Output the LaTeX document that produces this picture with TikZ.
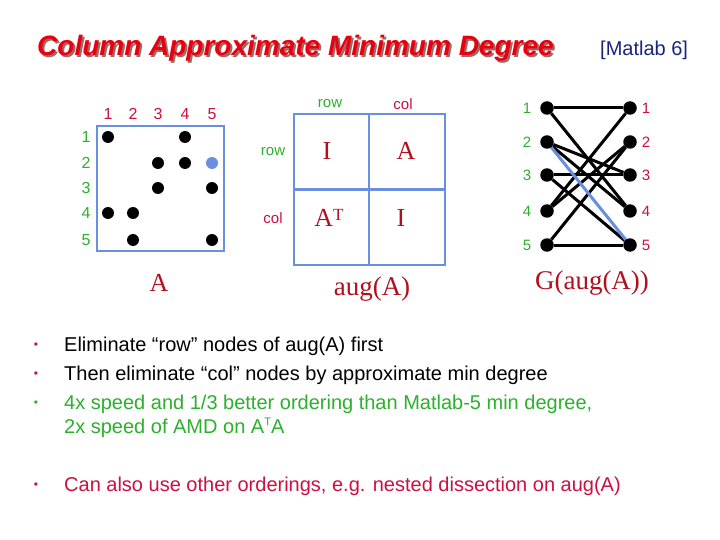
\documentclass[tikz,border=0pt]{standalone}
\usepackage{fontspec}
\setmainfont{Liberation Sans}
\newfontfamily\seriffont{Liberation Serif}
\usetikzlibrary{backgrounds}
\definecolor{titlered}{HTML}{E8000F}
\definecolor{shadowred}{HTML}{9A6A6A}
\definecolor{navy}{HTML}{1A237E}
\definecolor{rowgreen}{HTML}{2DB02D}
\definecolor{colred}{HTML}{CC1040}
\definecolor{boxblue}{HTML}{6A8FE0}
\definecolor{serifred}{HTML}{B01020}
\begin{document}
\begin{tikzpicture}[x=1pt,y=-1pt,
  dot/.style={circle,fill=black,minimum size=12pt,inner sep=0pt},
  gdot/.style={circle,fill=black,minimum size=13.5pt,inner sep=0pt},
  rowlab/.style={text=rowgreen,font=\fontsize{15}{17}\selectfont,inner sep=0pt},
  collab/.style={text=colred,font=\fontsize{15}{17}\selectfont,inner sep=0pt},
  big/.style={text=serifred,font=\seriffont\fontsize{26}{30}\selectfont,inner sep=0pt},
  edge/.style={line width=3pt,black},
  bul/.style={anchor=west,inner sep=0pt,font=\fontsize{20}{24}\selectfont},
  bdot/.style={anchor=center,inner sep=0pt,font=\fontsize{12}{14}\selectfont}]
\useasboundingbox (0,0) rectangle (720,540);
\begin{scope}[on background layer]
\fill[white] (0,0) rectangle (720,540);
\end{scope}
% title
\node[anchor=west,inner sep=0pt,text=shadowred,font=\fontsize{28}{32}\bfseries\itshape\selectfont] (tshadow) at (39,50) {Column Approximate Minimum Degree};
\node[anchor=west,inner sep=0pt,text=titlered,font=\fontsize{28}{32}\bfseries\itshape\selectfont] (title) at (37,48) {Column Approximate Minimum Degree};
\node[anchor=west,inner sep=0pt,text=navy,font=\fontsize{20}{24}\selectfont] (matlab) at (600,50) {[Matlab 6]};
% matrix
\node[draw=boxblue,line width=2.5pt,minimum width=127pt,minimum height=125pt,inner sep=0pt] (mbox) at (160.5,188.5) {};
\foreach \x/\n in {108/1,133/2,158/3,185/4,212/5}
  \node[collab,font=\fontsize{16}{18}\selectfont] (mc\n) at (\x,114) {\n};
\foreach \y/\n in {137/1,163/2,188/3,213/4,240/5}
  \node[rowlab,font=\fontsize{16}{18}\selectfont] (mr\n) at (86,\y) {\n};
\node[dot] (m11) at (108,137) {};
\node[dot] (m14) at (185,137) {};
\node[dot] (m23) at (158,163) {};
\node[dot] (m24) at (185,163) {};
\node[dot,fill=boxblue] (m25) at (212,163) {};
\node[dot] (m33) at (158,188) {};
\node[dot] (m35) at (212,188) {};
\node[dot] (m41) at (108,213) {};
\node[dot] (m42) at (133,213) {};
\node[dot] (m52) at (133,240) {};
\node[dot] (m55) at (212,240) {};
\node[big] (alab) at (159,283) {A};
% aug(A)
\node[draw=boxblue,line width=2.5pt,minimum width=151pt,minimum height=151pt,inner sep=0pt] (augbox) at (369.5,189.5) {};
\draw[boxblue,line width=2.5pt] (augbox.north) ++(-0.5,0) coordinate (vt) -- (augbox.south -| vt);
\draw[boxblue,line width=2.5pt] (augbox.west) -- (augbox.east);
\node[rowlab] (hrow) at (330,104) {row};
\node[collab] (hcol) at (403,104) {col};
\node[rowlab] (srow) at (273,152) {row};
\node[collab] (scol) at (273,218) {col};
\node[big] (c11) at (327,151) {I};
\node[big] (c12) at (406,151) {A};
\node[big] (c21) at (329,218) {A\raisebox{0.55ex}{\fontsize{17}{17}\selectfont T}};
\node[big] (c22) at (401,218) {I};
\node[big,font=\seriffont\fontsize{27}{30}\selectfont] (auglab) at (372,289) {aug(A)};
% graph
\foreach \y/\n in {108/1,142/2,175/3,211/4,245/5}{
  \node[gdot] (r\n) at (547,\y) {};
  \node[gdot] (c\n) at (630,\y) {};
  \node[rowlab] (gr\n) at (527,\y) {\n};
  \node[collab] (gc\n) at (646,\y) {\n};
}
\begin{scope}[on background layer]
\draw[edge] (r1) -- (c1);
\draw[edge] (r1) -- (c4);
\draw[edge] (r2) -- (c3);
\draw[edge] (r2) -- (c4);
\draw[edge] (r3) -- (c3);
\draw[edge] (r3) -- (c5);
\draw[edge] (r4) -- (c1);
\draw[edge] (r4) -- (c2);
\draw[edge] (r5) -- (c2);
\draw[edge] (r5) -- (c5);
\draw[line width=3pt,boxblue] (r2.center) -- (c5.center);
\end{scope}
\node[big,font=\seriffont\fontsize{27}{30}\selectfont] (glab) at (592,283) {G(aug(A))};
% bullets
\node[bdot,text=colred] (b1) at (36,346) {•};
\node[bul] (t1) at (64,346) {Eliminate “row” nodes of aug(A) first};
\node[bdot,text=colred] (b2) at (36,375) {•};
\node[bul] (t2) at (64,375) {Then eliminate “col” nodes by approximate min degree};
\node[bdot,text=rowgreen] (b3) at (36,404) {•};
\node[bul,text=rowgreen] (t3) at (64,404) {4x speed and 1/3 better ordering than Matlab-5 min degree,};
\node[bul,text=rowgreen] (t4) at (64,428) {2x speed of AMD on A\raisebox{0.75ex}{\fontsize{11}{12}\selectfont T}A};
\node[bdot,text=colred] (b5) at (36,486) {•};
\node[bul,text=colred] (t5) at (64,486) {Can also use other orderings, e.g. nested dissection on aug(A)};
\end{tikzpicture}
\end{document}
